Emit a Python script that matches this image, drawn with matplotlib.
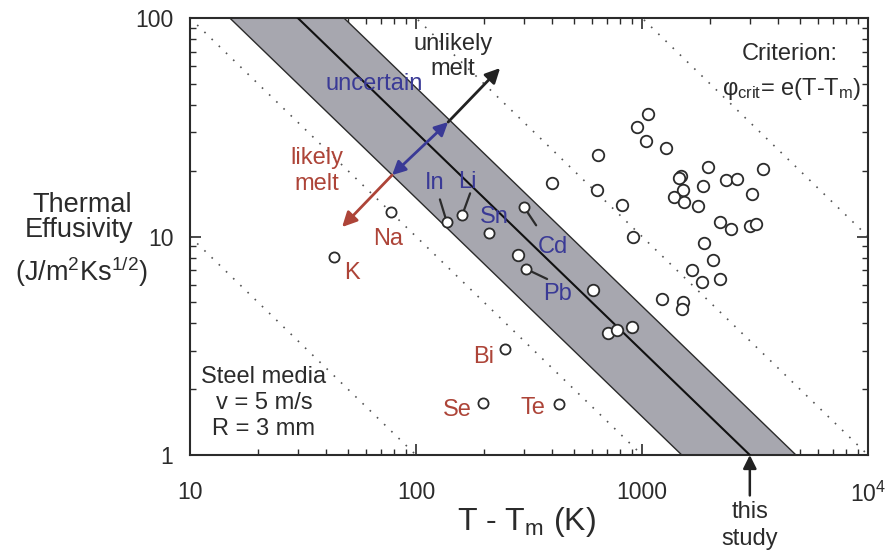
import numpy as np
import matplotlib
matplotlib.use('Agg')
import matplotlib.pyplot as plt

plt.rcParams['font.family'] = ['Liberation Sans', 'DejaVu Sans']
plt.rcParams['mathtext.fontset'] = 'custom'
plt.rcParams['mathtext.rm'] = 'Liberation Sans'
plt.rcParams['mathtext.it'] = 'Liberation Sans:italic'

# Unlabeled materials (T - Tm in K, effusivity)
other_dT = [400, 632, 638, 816, 912, 1064, 951, 1042, 1277, 1959, 3428, 1489,
            1459, 1862, 2355, 2633, 1518, 1387, 1534, 1771, 3069, 2213, 2478,
            3006, 3194, 1881, 2061, 1664, 1841, 2213, 1225, 1518, 1503,
            283, 607, 708, 775, 903]
other_e = [17.6, 16.3, 23.6, 13.9, 9.95, 36.4, 31.7, 27.4, 25.4, 20.8, 20.4, 18.9,
           18.5, 17.0, 18.2, 18.3, 16.3, 15.2, 14.4, 13.8, 15.7, 11.6, 10.8,
           11.2, 11.4, 9.33, 7.8, 7.03, 6.2, 6.4, 5.18, 5.01, 4.66,
           8.2, 5.7, 3.61, 3.73, 3.86]

# Labeled metals
metals = ['K', 'Na', 'In', 'Li', 'Sn', 'Cd', 'Pb', 'Bi', 'Se', 'Te']
metal_dT = [43.4, 77.4, 137, 160, 210, 301, 307, 248, 198, 430]
metal_e = [8.05, 12.9, 11.6, 12.5, 10.4, 13.6, 7.1, 3.05, 1.73, 1.71]
metal_group = ['likely', 'likely', 'uncertain', 'uncertain', 'uncertain',
               'uncertain', 'uncertain', 'likely', 'likely', 'likely']

# Criterion constants e*(T-Tm)
crit_center = 3000
crit_low = 1500
crit_high = 4800
guide_consts = [100, 1000, 1e4, 1e5]

RED = '#ad4438'
BLUE = '#3a3a96'
DARK = '#2b2b2b'
colors = {'likely': RED, 'uncertain': BLUE}

fig = plt.figure(figsize=(8.91, 5.54), dpi=100)
ax = fig.add_axes([190 / 891, 1 - 455 / 554, 678 / 891, 437 / 554])
ax.set_xscale('log')
ax.set_yscale('log')
ax.set_xlim(10, 1e4)
ax.set_ylim(1, 100)

x = np.logspace(1, 4, 300)

# dotted guide lines
for c in guide_consts:
    ax.plot(x, c / x, color='#555555', lw=1.2, ls=(0, (1, 5)), zorder=1)

# uncertainty band
ax.fill_between(x, crit_low / x, crit_high / x, color='#a7a7af', zorder=2, lw=0)
ax.plot(x, crit_low / x, color=DARK, lw=1.0, zorder=3)
ax.plot(x, crit_high / x, color=DARK, lw=1.0, zorder=3)
ax.plot(x, crit_center / x, color='#111111', lw=1.5, zorder=3)

# points
ax.plot(other_dT, other_e, 'o', ms=8.3, mfc='white', mec=DARK, mew=1.3, zorder=6)
ax.plot(metal_dT, metal_e, 'o', ms=7.3, mfc='white', mec=DARK, mew=1.3, zorder=6)

# metal labels (offsets in pixels from the point)
label_offsets = {'K': (18, -16), 'Na': (-3, -27), 'In': (-12, 39), 'Li': (5, 33),
                 'Sn': (6, 16), 'Cd': (29, -40), 'Pb': (31, -25), 'Bi': (-22, -8),
                 'Se': (-26, -7), 'Te': (-26, -4)}
leader_offsets = {'In': (-7, 23), 'Li': (8, 22), 'Cd': (12, -18), 'Pb': (21, -10)}

for name, xv, yv, g in zip(metals, metal_dT, metal_e, metal_group):
    ax.annotate(name, xy=(xv, yv), xytext=label_offsets[name],
                textcoords='offset pixels', ha='center', va='center',
                fontsize=17, color=colors[g], zorder=7)
    if name in leader_offsets:
        ax.annotate('', xy=(xv, yv), xytext=leader_offsets[name],
                    textcoords='offset pixels',
                    arrowprops=dict(arrowstyle='-', color=DARK, lw=1.6,
                                    shrinkA=0, shrinkB=0), zorder=5)

# direction arrows across the band
p_high = (138.7, 33.4)
p_low = (78.4, 19.1)
ax.annotate('', xy=(235.6, 59.0), xytext=p_high,
            arrowprops=dict(arrowstyle='-|>', color='#222222', lw=2,
                            mutation_scale=22, shrinkA=0, shrinkB=0), zorder=8)
ax.annotate('', xy=p_low, xytext=p_high,
            arrowprops=dict(arrowstyle='<|-|>', color=BLUE, lw=2,
                            mutation_scale=20, shrinkA=0, shrinkB=0), zorder=8)
ax.annotate('', xy=(47.1, 11.05), xytext=p_low,
            arrowprops=dict(arrowstyle='-|>', color=RED, lw=2,
                            mutation_scale=22, shrinkA=0, shrinkB=0), zorder=8)

ax.text(0.388, 0.912, 'unlikely\nmelt', transform=ax.transAxes, ha='center',
        va='center', fontsize=17, color=DARK, linespacing=1.2)
ax.text(0.271, 0.849, 'uncertain', transform=ax.transAxes, ha='center',
        va='center', fontsize=17, color=BLUE)
ax.text(0.187, 0.650, 'likely\nmelt', transform=ax.transAxes, ha='center',
        va='center', fontsize=17, color=RED, linespacing=1.2)
ax.text(0.956, 0.904, 'Criterion:', transform=ax.transAxes, ha='right',
        va='baseline', fontsize=17, color=DARK)
ax.text(0.991, 0.824, r'φ$_\mathrm{crit}$= e(T-T$_\mathrm{m}$)', transform=ax.transAxes,
        ha='right', va='baseline', fontsize=17, color=DARK)
ax.text(0.109, 0.119, 'Steel media\nv = 5 m/s\nR = 3 mm', transform=ax.transAxes,
        ha='center', va='center', fontsize=17, color=DARK, linespacing=1.22)

# "this study" marker
ax.annotate('this\nstudy', xy=(crit_center, 1), xytext=(0, -46),
            textcoords='offset pixels', ha='center', va='top', fontsize=17,
            color=DARK, linespacing=1.3, annotation_clip=False,
            arrowprops=dict(arrowstyle='-|>', color='#222222', lw=1.8,
                            mutation_scale=20, shrinkA=2, shrinkB=0))

# axes formatting
ax.set_xticks([10, 100, 1000, 1e4])
ax.set_xticklabels(['10', '100', '1000', '10$^4$'])
ax.set_yticks([1, 10, 100])
ax.set_yticklabels(['1', '10', '100'])
ax.tick_params(which='both', direction='in', top=True, right=True,
               colors=DARK, labelsize=16.5)
ax.tick_params(which='major', length=8, width=1.2)
ax.tick_params(which='minor', length=4, width=1.0)
ax.tick_params(axis='x', which='major', pad=19)
ax.tick_params(axis='y', which='major', pad=12)
for s in ax.spines.values():
    s.set_color(DARK)
    s.set_linewidth(1.5)

ax.set_xlabel(r'T - T$_\mathrm{m}$ (K)', fontsize=23, color=DARK)
ax.xaxis.set_label_coords(0.497, -0.172)
ax.xaxis.label.set_va('baseline')

fig.text(82 / 891, 1 - 205 / 554, 'Thermal', ha='center', va='center',
         fontsize=19.5, color=DARK)
fig.text(79 / 891, 1 - 230 / 554, 'Effusivity', ha='center', va='center',
         fontsize=19.5, color=DARK)
fig.text(81 / 891, 1 - 272 / 554, r'(J/m$^2$Ks$^{1/2}$)', ha='center', va='center',
         fontsize=19.5, color=DARK)

fig.savefig('out.png', dpi=100)
